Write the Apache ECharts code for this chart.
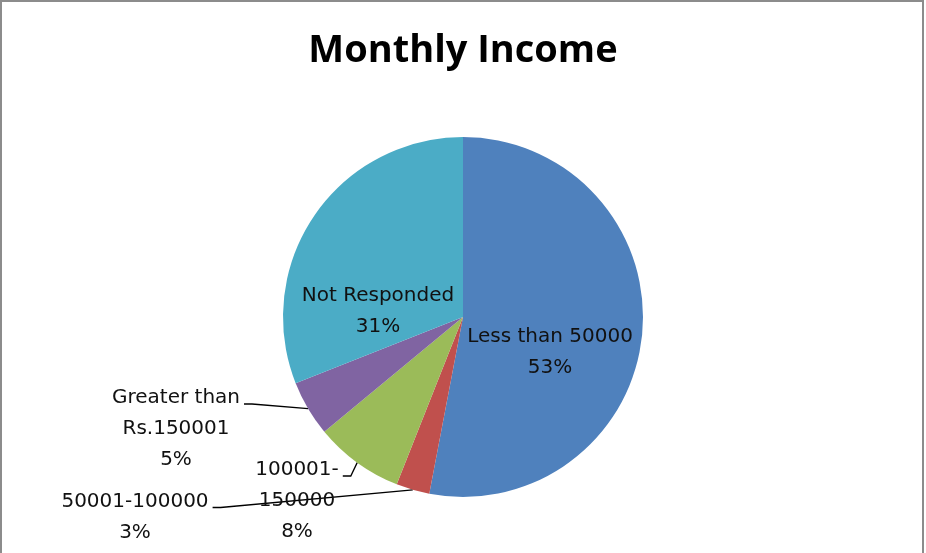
<!DOCTYPE html>
<html>
<head>
<meta charset="utf-8">
<script src="https://cdn.jsdelivr.net/npm/echarts@6/dist/echarts.min.js"></script>
<style>
html,body{margin:0;padding:0;background:#fff;}
#chart{width:926px;height:553px;}
</style>
</head>
<body>
<div id="chart"></div>
<script>
const categories = ['Less than 50000', '50001-100000', '100001-150000', 'Greater than Rs.150001', 'Not Responded'];
const labelNames = ['Less than 50000', '50001-100000', '100001-\n150000', 'Greater than\nRs.150001', 'Not Responded'];
const values = [53, 3, 8, 5, 31];
const colors = ['#4F81BD', '#C0504D', '#9BBB59', '#8064A2', '#4BACC6'];

// label anchor positions (layout only)
const labelPos = [[550, 352], [135, 517], [297, 501], [176, 429], [378, 311]];
const outside = [false, true, true, true, false];
const LH = 31;

const chart = echarts.init(document.getElementById('chart'), null, {renderer: 'canvas'});
chart.setOption({
  backgroundColor: '#ffffff',
  animation: false,
  title: {
    text: 'Monthly Income',
    left: 'center',
    top: 27,
    textStyle: {fontFamily: 'Open Sans', fontWeight: 'bold', fontSize: 38, color: '#000'}
  },
  graphic: [{
    type: 'rect',
    shape: {x: 1, y: 1, width: 922, height: 560},
    style: {fill: 'none', stroke: '#8c8c8c', lineWidth: 2},
    silent: true
  }],
  series: [{
    type: 'pie',
    center: [463, 317],
    radius: [0, 180],
    startAngle: 90,
    clockwise: true,
    avoidLabelOverlap: false,
    data: categories.map((c, i) => ({
      name: c,
      value: values[i],
      itemStyle: {color: colors[i]},
      label: {position: outside[i] ? 'outside' : 'inside'},
      labelLine: {show: outside[i]}
    })),
    label: {
      show: true,
      fontFamily: 'DejaVu Sans',
      fontSize: 20,
      lineHeight: LH,
      color: '#111',
      align: 'center',
      formatter: p => labelNames[p.dataIndex] + '\n' + Math.round(p.percent) + '%'
    },
    labelLine: {
      length: 15,
      length2: 10,
      lineStyle: {color: '#000', width: 1.3}
    },
    labelLayout: p => {
      const i = p.dataIndex;
      const cx = labelPos[i][0], cy = labelPos[i][1];
      const res = {x: cx, y: cy, align: 'center', verticalAlign: 'middle'};
      if (outside[i] && p.labelLinePoints) {
        const w = p.labelRect.width, h = p.labelRect.height;
        const ex = cx + w / 2 + 4;
        const ey = cy - h / 2 + LH / 2 + 6;
        const s = p.labelLinePoints[0];
        res.labelLinePoints = [[s[0], s[1]], [ex + 8, ey], [ex, ey]];
      }
      return res;
    },
    itemStyle: {borderWidth: 0}
  }]
});
</script>
</body>
</html>
